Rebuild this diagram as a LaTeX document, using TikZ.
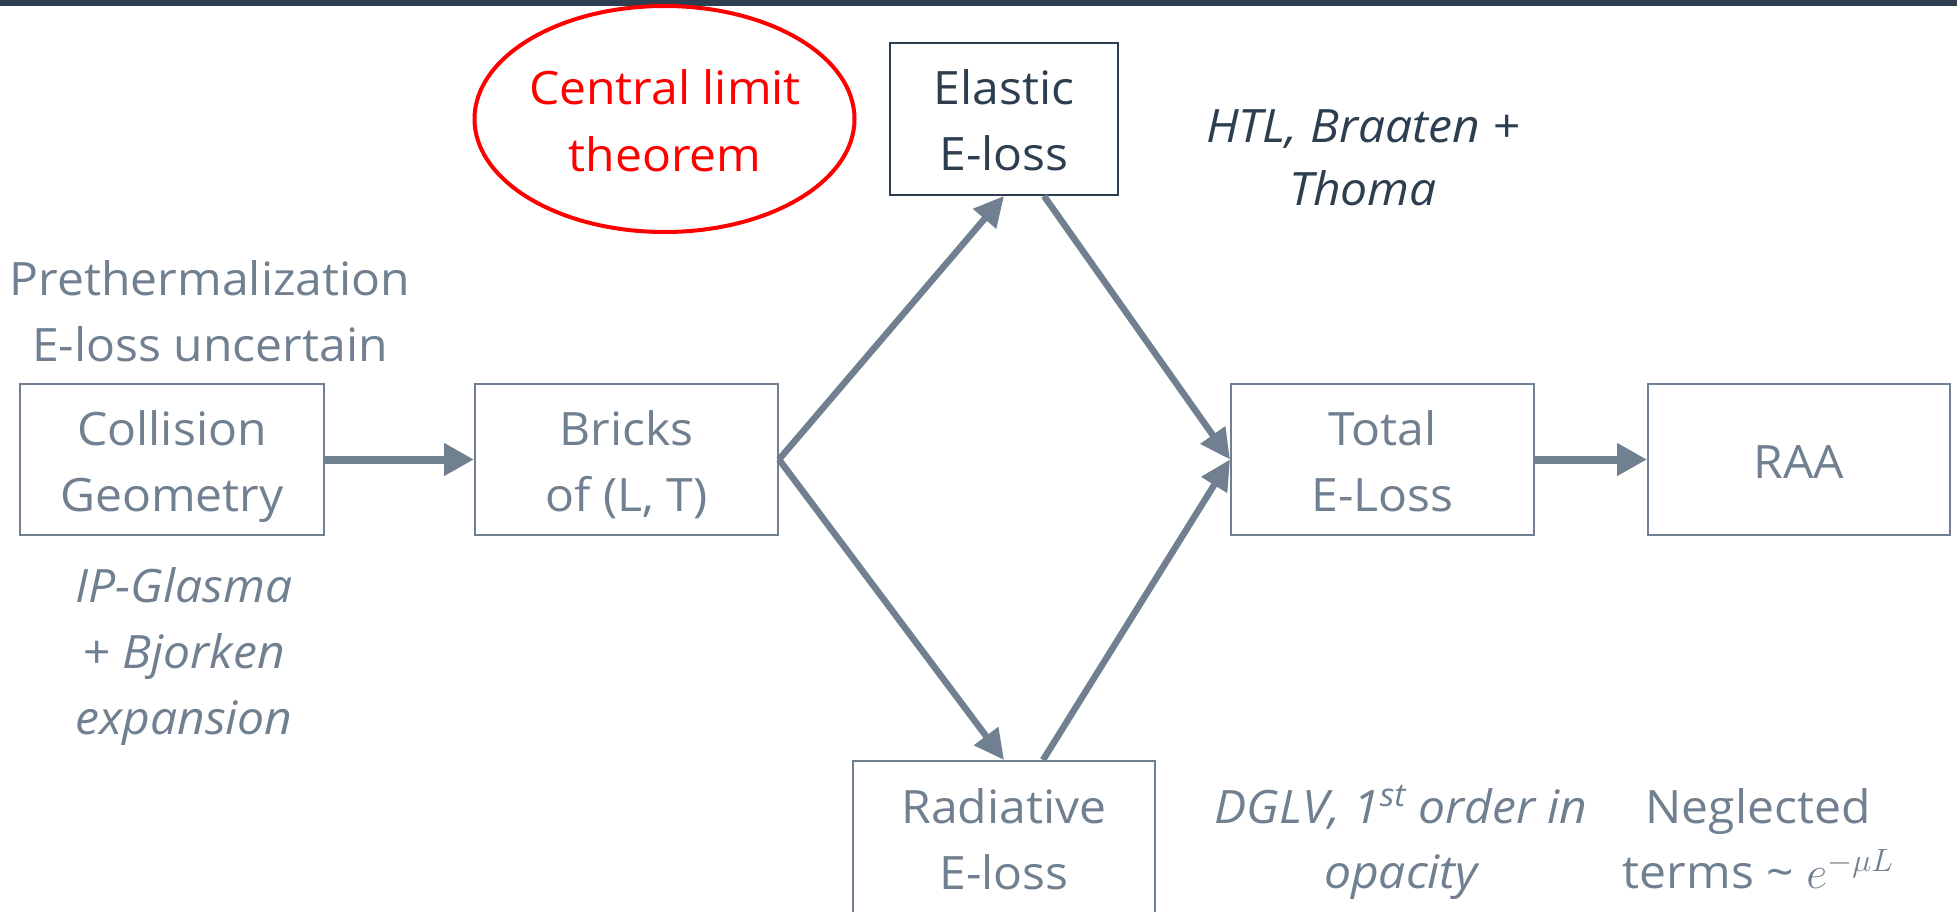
\RequirePackage{fix-cm}
\documentclass[tikz,border=0pt]{standalone}
\usepackage{fontspec}
\setmainfont{Open Sans}[FakeStretch=1.045]
\usetikzlibrary{arrows.meta,shapes.geometric}
\definecolor{slate}{RGB}{112,128,144}
\definecolor{navy}{RGB}{44,62,80}
\newcommand\mylines[1]{\begin{tabular}[t]{@{}c@{}}#1\end{tabular}}
\begin{document}
\begin{tikzpicture}[x=1pt,y=-1pt,
  boxnode/.style={draw=slate,line width=2pt,minimum height=151pt,inner sep=0pt,minimum width=#1},
  lbl/.style={anchor=base,inner sep=0pt,text=slate,font=\fontsize{46}{66}\selectfont},
  thick arrow/.style={draw=slate,line width=8pt,-{Triangle[length=30pt,width=31pt]}},
  diag arrow/.style={draw=slate,line width=6.5pt,-{Triangle[length=30pt,width=29pt]}}]
\useasboundingbox (0,0) rectangle (1957,912);
\clip (0,0) rectangle (1957,912);
\fill[navy] (0,0) rectangle (1957,6);
% boxes
\node[boxnode=304pt] (coll) at (172,459.5) {};
\node[boxnode=303pt] (bricks) at (626.5,459.5) {};
\node[boxnode=228pt,draw=navy,minimum height=152pt] (elastic) at (1004,119) {};
\node[boxnode=303pt] (total) at (1382.5,459.5) {};
\node[boxnode=302pt] (raa) at (1799,459.5) {};
\node[boxnode=302pt,minimum height=170pt] (rad) at (1004,846) {};
\node[draw=red,line width=4pt,ellipse,minimum width=380pt,minimum height=226pt,inner sep=0pt] (clt) at (664.5,119) {};
% texts
\node[lbl] (pre) at (210,295) {\mylines{Prethermalization\\E-loss uncertain}};
\node[lbl] (colltxt) at (172,445) {\mylines{Collision\\Geometry}};
\node[lbl] (brickstxt) at (626.5,445) {\mylines{Bricks\\of (L, T)}};
\node[lbl,font=\fontsize{46}{66}\selectfont\itshape] (ipg) at (184,602) {\mylines{IP-Glasma\\+ Bjorken\\expansion}};
\node[lbl,text=navy] (elastictxt) at (1004,105) {\mylines{Elastic\\E-loss}};
\node[lbl,text=red,font=\fontsize{46}{67}\selectfont] (clttxt) at (665,105) {\mylines{Central limit\\theorem}};
\node[lbl,text=navy,font=\fontsize{46}{63}\selectfont\itshape] (htl) at (1363,143) {\mylines{HTL, Braaten +\\Thoma}};
\node[lbl] (totaltxt) at (1382.5,445) {\mylines{Total\\E-Loss}};
\node[lbl] (raatxt) at (1799,478) {RAA};
\node[lbl] (radtxt) at (1004,823) {\mylines{Radiative\\E-loss}};
\node[lbl,font=\fontsize{46}{65}\selectfont\itshape] (dglv) at (1401,823) {\mylines{DGLV, 1\textsuperscript{st} order in\\opacity}};
\node[lbl,font=\fontsize{46}{65}\selectfont] (negl) at (1758,823) {\mylines{Neglected\\terms \textasciitilde{} $e^{-\mu L}$}};
% arrows
\draw[thick arrow] (coll.east) -- (bricks.west);
\draw[thick arrow] (total.east) -- (raa.west);
\draw[diag arrow] (bricks.east) -- (elastic.south);
\draw[diag arrow] ([xshift=40pt]elastic.south) -- (total.west);
\draw[diag arrow] (bricks.east) -- (rad.north);
\draw[diag arrow] ([xshift=39pt]rad.north) -- (total.west);
\end{tikzpicture}
\end{document}
